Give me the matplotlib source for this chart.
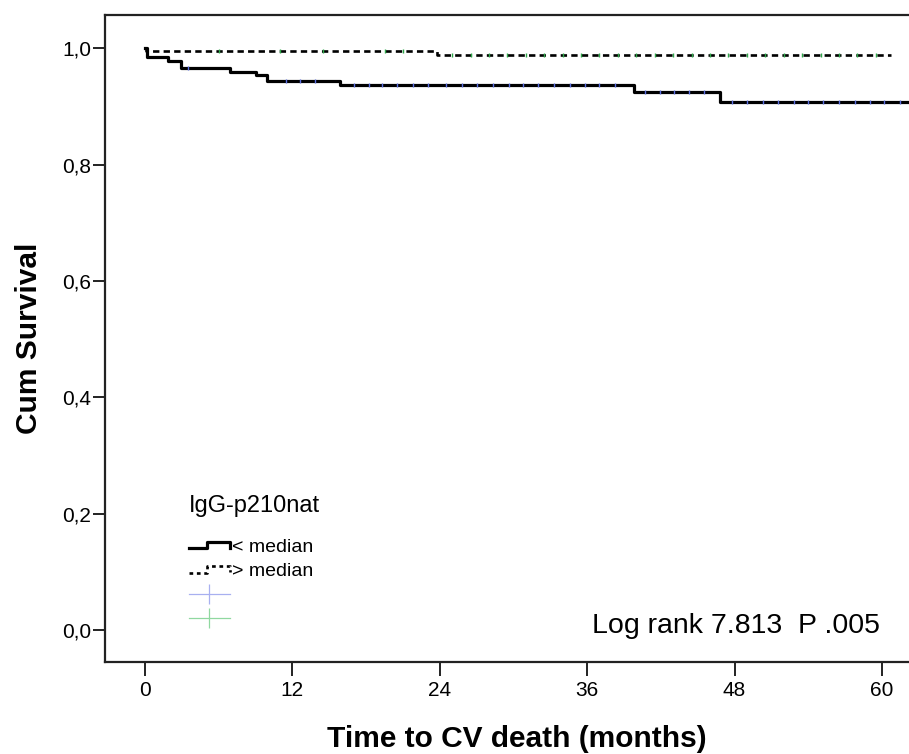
import matplotlib
matplotlib.use('Agg')
import matplotlib.pyplot as plt
from matplotlib.lines import Line2D
from matplotlib.legend_handler import HandlerBase

plt.rcParams['font.family'] = ['Liberation Sans', 'DejaVu Sans']

# Kaplan-Meier steps
low_times = [0, 0.15, 1.9, 2.9, 6.9, 9.0, 9.9, 15.9, 39.8, 46.8, 63]
low_surv = [1.0, 0.985, 0.978, 0.966, 0.960, 0.954, 0.943, 0.936, 0.925, 0.908, 0.908]
high_times = [0, 0.1, 23.8, 60.7]
high_surv = [1.0, 0.995, 0.988, 0.988]

# censored cases (small ticks on the curves)
low_cens = [3.5, 11.5, 12.6, 13.8, 17.0, 18.2, 19.3, 20.5, 21.8, 23.0, 24.5, 25.8, 27.0,
            28.3, 29.6, 30.8, 32.0, 33.3, 34.6, 35.8, 37.0, 38.3, 40.7, 41.9, 43.1, 44.3,
            45.5, 47.8, 49.0, 50.3, 51.5, 52.8, 54.0, 55.2, 56.5, 57.8, 59.0, 60.2, 61.5]
high_cens = [6.0, 11.0, 14.5, 19.5, 21.0, 25.0, 26.5, 28.0, 29.5, 31.0, 32.5, 34.0, 35.5,
             37.0, 38.5, 40.0, 41.5, 43.0, 44.5, 46.0, 47.5, 49.0, 50.5, 52.0, 53.5, 55.0,
             56.5, 58.0, 59.5]

x_ticks = [0, 12, 24, 36, 48, 60]
y_ticks = [0.0, 0.2, 0.4, 0.6, 0.8, 1.0]
y_labels = ['0,0', '0,2', '0,4', '0,6', '0,8', '1,0']


def surv_at(times, surv, t):
    val = surv[0]
    for ti, si in zip(times, surv):
        if ti <= t:
            val = si
    return val


class StepHandler(HandlerBase):
    # little step symbol like the SPSS legend
    def create_artists(self, legend, orig_handle, xdescent, ydescent, width, height, fontsize, trans):
        x0 = -xdescent
        y0 = -ydescent
        xs = [x0, x0 + 0.45 * width, x0 + 0.45 * width, x0 + width, x0 + width]
        ys = [y0 + 0.25 * height, y0 + 0.25 * height, y0 + 0.75 * height,
              y0 + 0.75 * height, y0 + 0.3 * height]
        line = Line2D(xs, ys, color='black', lw=orig_handle.get_linewidth(),
                      linestyle=orig_handle.get_linestyle())
        if orig_handle.get_linestyle() != '-':
            line.set_dashes((1.4, 1.4))
        line.set_transform(trans)
        return [line]


fig = plt.figure(figsize=(9.09, 7.54), dpi=100)
ax = fig.add_axes([0.1155, 0.122, 0.8845, 0.858])

low_line, = ax.step(low_times, low_surv, where='post', color='black', lw=2.3)
high_line, = ax.step(high_times, high_surv, where='post', color='black', lw=1.9,
                     linestyle='--', dashes=(2.4, 1.6))

ax.plot(low_cens, [surv_at(low_times, low_surv, t) for t in low_cens], linestyle='none',
        marker='|', markersize=3, markeredgewidth=1, color='#5a6fe0')
ax.plot(high_cens, [surv_at(high_times, high_surv, t) for t in high_cens], linestyle='none',
        marker='|', markersize=3, markeredgewidth=1, color='#2ea84a')

ax.set_xlim(-3.26, 62.2)
ax.set_ylim(-0.055, 1.057)
ax.set_xticks(x_ticks)
ax.set_yticks(y_ticks)
ax.set_yticklabels(y_labels)

for s in ['left', 'bottom', 'top']:
    ax.spines[s].set_linewidth(1.6)
    ax.spines[s].set_color('#222222')
ax.spines['right'].set_visible(False)

ax.tick_params(axis='x', length=10, width=1.4, labelsize=15, pad=4, color='#222222')
ax.tick_params(axis='y', length=9, width=1.4, labelsize=15, pad=1, color='#222222')

ax.set_xlabel('Time to CV death (months)', fontsize=21.5, fontweight='bold', labelpad=18)
ax.xaxis.label.set_x(0.512)
ax.set_ylabel('Cum Survival', fontsize=21.5, fontweight='bold', labelpad=14)

ax.text(59.8, -0.005, 'Log rank 7.813  P .005', fontsize=20.5, ha='right', va='baseline')

blue_cross = Line2D([], [], color='#a8b0f0', lw=0.9, marker='|', markersize=14,
                    markeredgewidth=0.9)
green_cross = Line2D([], [], color='#90d8a0', lw=0.9, marker='|', markersize=14,
                     markeredgewidth=0.9)

leg = ax.legend([low_line, high_line, blue_cross, green_cross],
                ['< median', '> median', ' ', ' '],
                title='IgG-p210nat', title_fontsize=17, fontsize=14,
                handler_map={low_line: StepHandler(), high_line: StepHandler()},
                loc='upper left', bbox_to_anchor=(0.197, 0.356), bbox_transform=fig.transFigure,
                frameon=False, handlelength=2.1, handletextpad=0.1, labelspacing=0.35,
                numpoints=1, borderpad=0)
leg._legend_box.align = 'left'
leg._legend_box.sep = 15

fig.savefig('out.png', dpi=100)
